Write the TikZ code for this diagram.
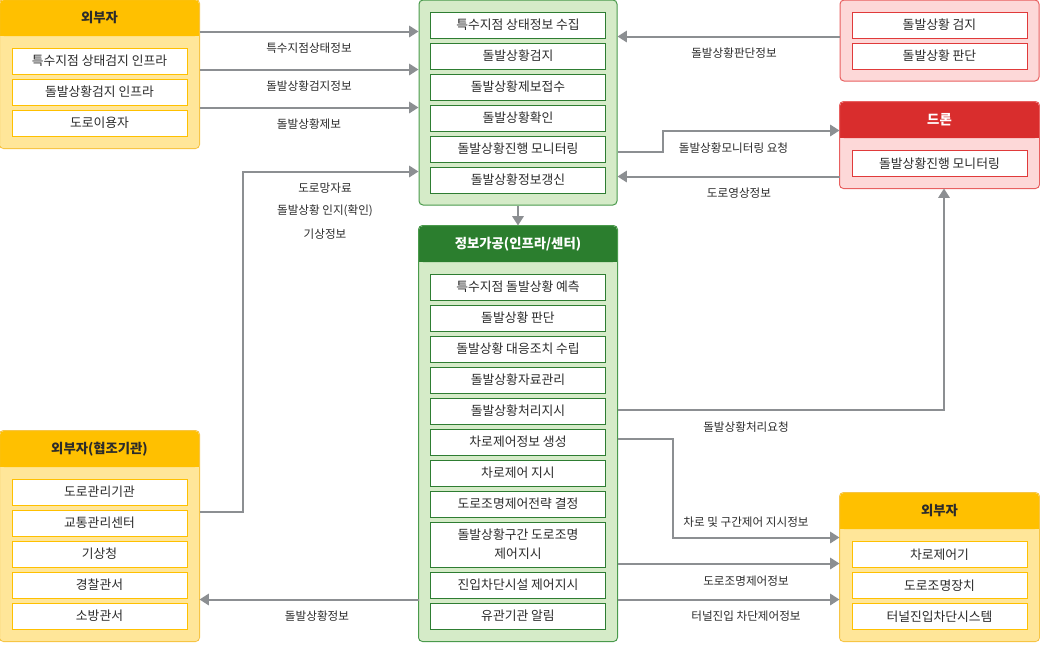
\documentclass[tikz,border=0pt]{standalone}
\usepackage{fontspec}
\setmainfont{Noto Sans CJK KR}
\usetikzlibrary{arrows.meta,calc,fit}
\definecolor{ybody}{HTML}{FFE699}
\definecolor{yhead}{HTML}{FFC000}
\definecolor{ybord}{HTML}{F7C545}
\definecolor{yitem}{HTML}{FFC000}
\definecolor{gbody}{HTML}{D5EBC8}
\definecolor{ghead}{HTML}{2B7E2E}
\definecolor{gbord}{HTML}{4A9A4C}
\definecolor{gitem}{HTML}{2E7D32}
\definecolor{rbody}{HTML}{FDD8D8}
\definecolor{rhead}{HTML}{D92D2D}
\definecolor{rbord}{HTML}{E86060}
\definecolor{ritem}{HTML}{E03A3A}
\definecolor{arrc}{HTML}{8C8F92}
\definecolor{txt}{HTML}{2B2B2B}
\begin{document}
\begin{tikzpicture}[x=0.75pt,y=-0.75pt,
  panel/.style={inner sep=0pt, line width=0.75pt, rounded corners=3pt},
  item/.style={draw, fill=white, minimum width=131.25pt, minimum height=19.5pt, inner sep=0pt, line width=0.75pt, font=\fontsize{9.6}{14.25}\selectfont, text=txt, align=center},
  yit/.style={item, draw=yitem},
  git/.style={item, draw=gitem},
  rit/.style={item, draw=ritem},
  ttl/.style={font=\fontsize{10}{12}\selectfont\bfseries, inner sep=0pt},
  lbl/.style={font=\fontsize{8.7}{10}\selectfont, text=txt, inner sep=0pt},
  arr/.style={draw=arrc, line width=1.5pt, -{Triangle[length=7pt,width=8.5pt]}}]
\useasboundingbox (0,0) rectangle (1040,644);

% ---------- panels ----------
% top-left external
\node[panel, fill=ybody, fit={(0,0)(199,148)}] (E1) {};
\fill[yhead, rounded corners=3pt] (0,0) rectangle (199,36);
\fill[yhead] (0,30) rectangle (199,36);
\draw[ybord, line width=0.75pt, rounded corners=3pt] (E1.north west) rectangle (E1.south east);
\node[ttl, text=txt] (E1t) at (99.5,18) {외부자};
\node[yit] (e11) at (99.5,61) {특수지점 상태검지 인프라};
\node[yit] (e12) at (99.5,92) {돌발상황검지 인프라};
\node[yit] (e13) at (99.5,123) {도로이용자};

% top green
\node[panel, fill=gbody, draw=gbord, fit={(419,0)(617,205)}] (G) {};
\node[git] (g1) at (518,25) {특수지점 상태정보 수집};
\node[git] (g2) at (518,56) {돌발상황검지};
\node[git] (g3) at (518,87) {돌발상황제보접수};
\node[git] (g4) at (518,118) {돌발상황확인};
\node[git] (g5) at (518,149) {돌발상황진행 모니터링};
\node[git] (g6) at (518,180) {돌발상황정보갱신};

% top red
\node[panel, fill=rbody, draw=rbord, fit={(840,0)(1039,81)}] (R) {};
\node[rit] (r1) at (939.5,25) {돌발상황 검지};
\node[rit] (r2) at (939.5,56) {돌발상황 판단};

% drone
\node[panel, fill=rbody, fit={(840,102)(1039,188)}] (D) {};
\fill[rhead, rounded corners=3pt] (840,102) rectangle (1039,138);
\fill[rhead] (840,132) rectangle (1039,138);
\draw[rbord, line width=0.75pt, rounded corners=3pt] (D.north west) rectangle (D.south east);
\node[ttl, text=white] (Dt) at (939.5,120) {드론};
\node[rit] (d1) at (939.5,163.5) {돌발상황진행 모니터링};

% info processing
\node[panel, fill=gbody, fit={(419,226)(617,641)}] (P) {};
\fill[ghead, rounded corners=3pt] (419,226) rectangle (617,262);
\fill[ghead] (419,256) rectangle (617,262);
\draw[gbord, line width=0.75pt, rounded corners=3pt] (P.north west) rectangle (P.south east);
\node[ttl, text=white] (Pt) at (518,244) {정보가공(인프라/센터)};
\node[git] (p1) at (518,287) {특수지점 돌발상황 예측};
\node[git] (p2) at (518,318) {돌발상황 판단};
\node[git] (p3) at (518,349) {돌발상황 대응조치 수립};
\node[git] (p4) at (518,380) {돌발상황자료관리};
\node[git] (p5) at (518,411) {돌발상황처리지시};
\node[git] (p6) at (518,442) {차로제어정보 생성};
\node[git] (p7) at (518,473) {차로제어 지시};
\node[git] (p8) at (518,504) {도로조명제어전략 결정};
\node[git, minimum height=33.75pt] (p9) at (518,544.5) {돌발상황구간 도로조명\\제어지시};
\node[git] (p10) at (518,585) {진입차단시설 제어지시};
\node[git] (p11) at (518,616) {유관기관 알림};

% bottom-left cooperating agencies
\node[panel, fill=ybody, fit={(0,431)(199,641)}] (E2) {};
\fill[yhead, rounded corners=3pt] (0,431) rectangle (199,467);
\fill[yhead] (0,461) rectangle (199,467);
\draw[ybord, line width=0.75pt, rounded corners=3pt] (E2.north west) rectangle (E2.south east);
\node[ttl, text=txt] (E2t) at (99.5,449) {외부자(협조기관)};
\node[yit] (e21) at (99.5,492) {도로관리기관};
\node[yit] (e22) at (99.5,523) {교통관리센터};
\node[yit] (e23) at (99.5,554) {기상청};
\node[yit] (e24) at (99.5,585) {경찰관서};
\node[yit] (e25) at (99.5,616) {소방관서};

% bottom-right external
\node[panel, fill=ybody, fit={(840,493)(1039,641)}] (E3) {};
\fill[yhead, rounded corners=3pt] (840,493) rectangle (1039,529);
\fill[yhead] (840,523) rectangle (1039,529);
\draw[ybord, line width=0.75pt, rounded corners=3pt] (E3.north west) rectangle (E3.south east);
\node[ttl, text=txt] (E3t) at (939.5,511) {외부자};
\node[yit] (e31) at (939.5,554.5) {차로제어기};
\node[yit] (e32) at (939.5,585.5) {도로조명장치};
\node[yit] (e33) at (939.5,616.5) {터널진입차단시스템};

% ---------- connectors ----------
\draw[arr] ($(E1.north east)+(0,32)$) -- ($(G.north west)+(0,32)$);
\draw[arr] ($(E1.north east)+(0,70)$) -- ($(G.north west)+(0,70)$);
\draw[arr] ($(E1.north east)+(0,108)$) -- ($(G.north west)+(0,108)$);
\node[lbl] (l1) at (309,48) {특수지점상태정보};
\node[lbl] (l2) at (309,86) {돌발상황검지정보};
\node[lbl] (l3) at (309,124) {돌발상황제보};

\draw[arr] ($(E2.north east)+(0,81)$) -- ++(43,0) |- ($(G.north west)+(0,172)$);
\node[lbl] (l4) at (325,188) {도로망자료};
\node[lbl] (l5) at (325,211) {돌발상황 인지(확인)};
\node[lbl] (l6) at (325,234) {기상정보};

\draw[arr] ($(R.north west)+(0,37)$) -- ($(G.north east)+(0,37)$);
\node[lbl] (l7) at (734,53) {돌발상황판단정보};

\draw[arr] ($(G.north east)+(0,152)$) -- ++(45,0) |- ($(D.north west)+(0,29)$);
\node[lbl] (l8) at (733.5,148) {돌발상황모니터링 요청};

\draw[arr] ($(D.north west)+(0,75)$) -- ($(G.north east)+(0,177)$);
\node[lbl] (l9) at (739,193) {도로영상정보};

\draw[arr] (G.south) -- (P.north);

\draw[arr] ($(P.north east)+(0,184)$) -| ($(D.south)+(4.5,0)$);
\node[lbl] (l10) at (746,427) {돌발상황처리요청};

\draw[arr] ($(P.north east)+(0,213)$) -- ++(55,0) |- ($(E3.north west)+(0,45)$);
\node[lbl] (l11) at (746,522) {차로 및 구간제어 지시정보};

\draw[arr] ($(P.north east)+(0,338)$) -- ($(E3.north west)+(0,71)$);
\node[lbl] (l12) at (746,581) {도로조명제어정보};

\draw[arr] ($(P.north east)+(0,374)$) -- ($(E3.north west)+(0,107)$);
\node[lbl] (l13) at (746,616) {터널진입 차단제어정보};

\draw[arr] ($(P.north west)+(0,374)$) -- ($(E2.north east)+(0,169)$);
\node[lbl] (l14) at (317,616) {돌발상황정보};
\end{tikzpicture}
\end{document}
